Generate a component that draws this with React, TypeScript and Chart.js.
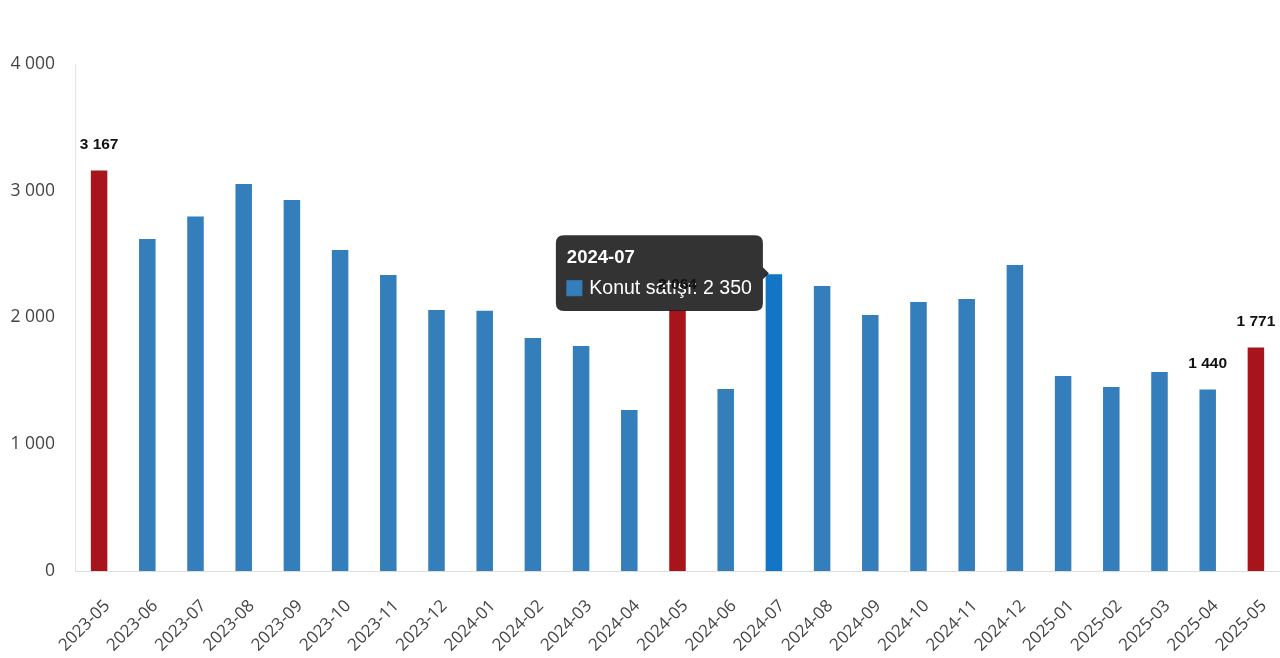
import React, { useEffect, useRef } from "react";
import { Chart, registerables } from "chart.js";

Chart.register(...registerables);

const categories = [
  "2023-05", "2023-06", "2023-07", "2023-08", "2023-09", "2023-10", "2023-11", "2023-12",
  "2024-01", "2024-02", "2024-03", "2024-04", "2024-05", "2024-06", "2024-07", "2024-08",
  "2024-09", "2024-10", "2024-11", "2024-12", "2025-01", "2025-02", "2025-03", "2025-04", "2025-05",
];
const sales = [
  3167, 2627, 2805, 3061, 2935, 2540, 2343, 2067,
  2062, 1846, 1783, 1278, 2064, 1444, 2350, 2256,
  2028, 2130, 2154, 2422, 1546, 1460, 1578, 1440, 1771,
];
const highlighted = ["2023-05", "2024-05", "2025-05"];
const labelled = ["2023-05", "2024-05", "2025-04", "2025-05"];
const activeCategory = "2024-07";
const seriesName = "Konut satışı";
const yTicks = [0, 1000, 2000, 3000, 4000];

const BLUE = "#337ebb";
const RED = "#a8141c";
const HOVER_BLUE = "#1275c6";

const fmt = (v: number) => String(Math.round(v)).replace(/\B(?=(\d{3})+(?!\d))/g, " ");

export default function App() {
  const ref = useRef<HTMLCanvasElement | null>(null);

  useEffect(() => {
    const canvas = ref.current;
    if (!canvas) return;

    const labelPlugin = {
      id: "barValueLabels",
      afterDraw(chart: any) {
        const ctx = chart.ctx;
        const meta = chart.getDatasetMeta(0);
        ctx.save();
        ctx.font = "bold 15.5px 'Liberation Sans', Arial, sans-serif";
        ctx.fillStyle = "#111";
        ctx.textAlign = "center";
        ctx.textBaseline = "middle";
        meta.data.forEach((bar: any, i: number) => {
          if (!labelled.includes(categories[i])) return;
          ctx.fillText(fmt(sales[i]), bar.x, bar.y - 25);
        });
        ctx.restore();
      },
    };

    const chart = new Chart(canvas, {
      type: "bar",
      data: {
        labels: categories,
        datasets: [
          {
            label: seriesName,
            data: sales,
            backgroundColor: categories.map((c) => (highlighted.includes(c) ? RED : BLUE)),
            hoverBackgroundColor: categories.map((c) => (highlighted.includes(c) ? RED : HOVER_BLUE)),
            borderColor: "rgba(255,255,255,0.2)",
            borderWidth: 1,
            barPercentage: 0.48,
            categoryPercentage: 0.8,
          },
        ],
      },
      options: {
        responsive: false,
        animation: false,
        maintainAspectRatio: false,
        layout: { padding: { left: 0, right: 0, top: 64, bottom: 0 } },
        plugins: {
          legend: { display: false },
          title: { display: false },
          tooltip: {
            enabled: true,
            backgroundColor: "rgba(0,0,0,0.8)",
            titleColor: "#fff",
            bodyColor: "#fff",
            titleFont: { family: "'Liberation Sans', Arial, sans-serif", size: 18.5, weight: "bold" },
            bodyFont: { family: "'Liberation Sans', Arial, sans-serif", size: 19.5 },
            padding: 11,
            titleMarginBottom: 8,
            cornerRadius: 8,
            caretSize: 6,
            caretPadding: 5,
            boxWidth: 15,
            boxHeight: 15,
            multiKeyBackground: BLUE,
            callbacks: {
              label: (item: any) => ` ${seriesName}: ${fmt(item.parsed.y)}`,
              labelColor: () => ({ borderColor: BLUE, backgroundColor: BLUE, borderWidth: 0 }),
            },
          },
        },
        scales: {
          x: {
            grid: { display: false, drawTicks: false },
            border: { display: true, color: "#dddddd" },
            afterFit: (axis: any) => {
              axis.height = 87;
              axis.paddingLeft = 0;
              axis.paddingRight = 0;
            },
            ticks: {
              color: "#444",
              font: { family: "'Open Sans', sans-serif", size: 17 },
              minRotation: 45,
              maxRotation: 45,
              padding: 25,
              labelOffset: 8,
            },
          },
          y: {
            min: 0,
            max: 4000,
            afterBuildTicks: (axis: any) => {
              axis.ticks = yTicks.map((v) => ({ value: v }));
            },
            afterFit: (axis: any) => {
              axis.width = 75;
            },
            grid: { display: false, drawTicks: false },
            border: { display: true, color: "#e3e3e3" },
            ticks: {
              color: "#444",
              font: { family: "'Open Sans', sans-serif", size: 17.5 },
              padding: 20,
              callback: (v: any) => fmt(Number(v)),
            },
          },
        },
      },
      plugins: [labelPlugin],
    });

    const idx = categories.indexOf(activeCategory);
    const el = chart.getDatasetMeta(0).data[idx] as any;
    chart.setActiveElements([{ datasetIndex: 0, index: idx }]);
    chart.tooltip?.setActiveElements([{ datasetIndex: 0, index: idx }], { x: el.x, y: el.y });
    chart.update();

    return () => chart.destroy();
  }, []);

  return (
    <div style={{ position: "absolute", left: 0, top: 0, width: 1280, height: 658 }}>
      <canvas ref={ref} width={1280} height={658} style={{ width: 1280, height: 658 }} />
    </div>
  );
}
